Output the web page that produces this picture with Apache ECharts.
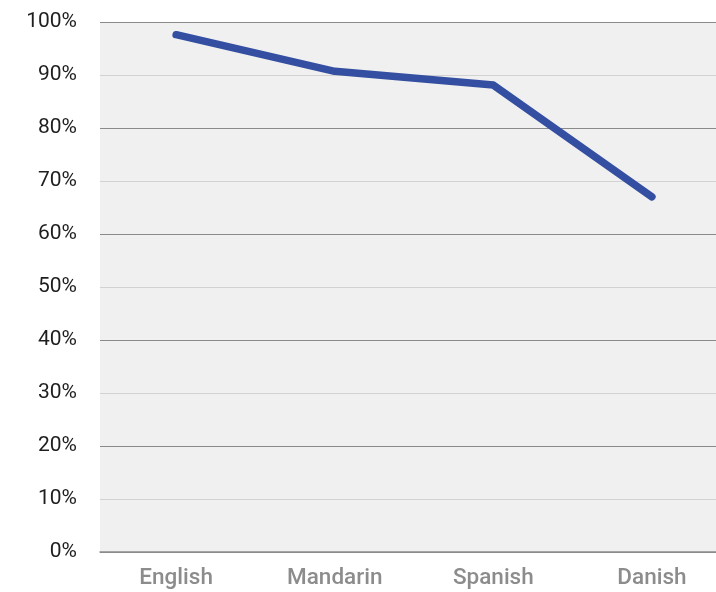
<!DOCTYPE html>
<html>
<head>
<meta charset="utf-8">
<script src="https://cdn.jsdelivr.net/npm/echarts@6/dist/echarts.min.js"></script>
<style>
  html, body { margin: 0; padding: 0; background: #fff; }
  #chart { width: 716px; height: 592px; }
</style>
</head>
<body>
<div id="chart"></div>
<script>
const languages = ['English', 'Mandarin', 'Spanish', 'Danish']
const shares = [97.6, 90.7, 88.1, 67.0]

// points sit on index positions 0..3, axis padded so the first one is ~76px in
let points = shares.map((v, i) => [i, v])

const myChart = echarts.init(document.getElementById('chart'))
myChart.setOption({
  animation: false,
  grid: {
    left: 100,
    top: 22,
    right: 0,
    height: 530,
    outerBoundsMode: 'none',
    show: true,
    backgroundColor: '#f0f0f0',
    borderWidth: 0
  },
  xAxis: {
    type: 'value',
    min: -0.48,
    max: 3.404,
    splitLine: { show: false },
    axisLine: { show: true, onZero: false, lineStyle: { color: '#8a8a8a', width: 1.5 } },
    axisTick: { show: false },
    axisLabel: {
      customValues: [0, 1, 2, 3],
      formatter: (val) => languages[Math.round(val)],
      color: '#8c8c8c',
      fontFamily: 'Roboto',
      fontWeight: 500,
      fontSize: 22.5,
      margin: 15
    }
  },
  yAxis: {
    type: 'value',
    min: 0,
    max: 100,
    interval: 10,
    axisLine: { show: false },
    axisTick: { show: false },
    axisLabel: {
      color: '#1e1e1e',
      fontFamily: 'Roboto',
      fontSize: 21,
      margin: 23,
      formatter: '{value}%'
    },
    splitLine: {
      show: true,
      lineStyle: { color: ['#8a8a8a', '#d2d2d2'], width: 1.2 }
    }
  },
  series: [{
    type: 'line',
    data: points,
    symbol: 'none',
    lineStyle: { color: '#344fa1', width: 7.5, cap: 'round', join: 'round' }
  }]
})
</script>
</body>
</html>
